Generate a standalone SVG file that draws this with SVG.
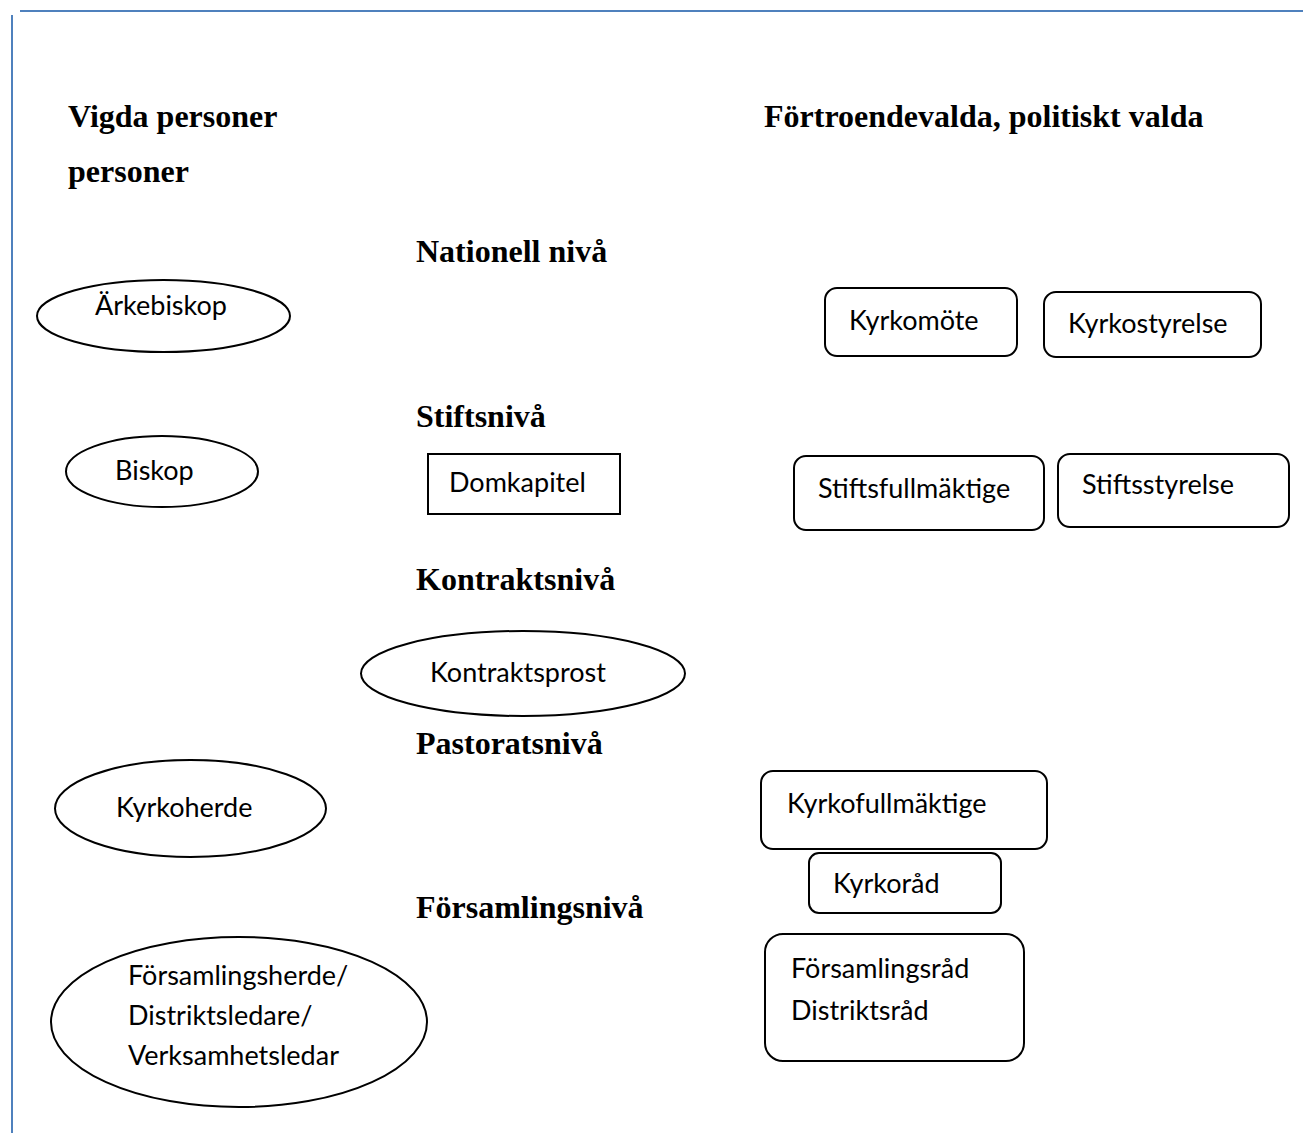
<svg xmlns="http://www.w3.org/2000/svg" width="1303" height="1133" viewBox="0 0 1303 1133">
<style>
.h{font-family:"Liberation Serif","Times New Roman",serif;font-weight:bold;font-size:32px;fill:#000}
.t{font-family:Lato,"Open Sans",sans-serif;font-size:27px;fill:#000}
.s{fill:#fff;stroke:#000;stroke-width:2}
.b{stroke:#4F81BD;stroke-width:2;fill:none}
</style>
<rect width="1303" height="1133" fill="#fff"/>
<g id="border">
<line class="b" x1="20" y1="11" x2="1303" y2="11"/>
<line class="b" x1="12" y1="15" x2="12" y2="1133"/>
</g>
<g id="headers">
<text class="h" x="68" y="127">Vigda personer</text>
<text class="h" x="68" y="182">personer</text>
<text class="h" x="764" y="127">Förtroendevalda, politiskt valda</text>
<text class="h" x="416" y="262">Nationell nivå</text>
<text class="h" x="416" y="427">Stiftsnivå</text>
<text class="h" x="416" y="590">Kontraktsnivå</text>
<text class="h" x="416" y="754">Pastoratsnivå</text>
<text class="h" x="416" y="918">Församlingsnivå</text>
</g>
<g id="arkebiskop"><ellipse class="s" cx="163.5" cy="316" rx="126.5" ry="36"/><text class="t" x="95" y="315">Ärkebiskop</text></g>
<g id="biskop"><ellipse class="s" cx="162" cy="471.5" rx="96" ry="35.5"/><text class="t" x="115" y="480">Biskop</text></g>
<g id="domkapitel"><rect class="s" x="428" y="454" width="192" height="60"/><text class="t" x="449" y="492">Domkapitel</text></g>
<g id="kontraktsprost"><ellipse class="s" cx="523" cy="673.5" rx="162" ry="42.5"/><text class="t" x="430" y="682">Kontraktsprost</text></g>
<g id="kyrkoherde"><ellipse class="s" cx="190.5" cy="808.5" rx="135.5" ry="48.5"/><text class="t" x="116" y="817">Kyrkoherde</text></g>
<g id="forsamlingsherde"><ellipse class="s" cx="239" cy="1022" rx="188" ry="85"/><text class="t" x="128" y="985">Församlingsherde/</text><text class="t" x="128" y="1025">Distriktsledare/</text><text class="t" x="128" y="1065">Verksamhetsledar</text></g>
<g id="kyrkomote"><rect class="s" x="825" y="288" width="192" height="68" rx="12"/><text class="t" x="849" y="330">Kyrkomöte</text></g>
<g id="kyrkostyrelse"><rect class="s" x="1044" y="292" width="217" height="65" rx="12"/><text class="t" x="1068" y="333">Kyrkostyrelse</text></g>
<g id="stiftsfullmaktige"><rect class="s" x="794" y="456" width="250" height="74" rx="12"/><text class="t" x="818" y="498">Stiftsfullmäktige</text></g>
<g id="stiftsstyrelse"><rect class="s" x="1058" y="454" width="231" height="73" rx="12"/><text class="t" x="1082" y="494">Stiftsstyrelse</text></g>
<g id="kyrkofullmaktige"><rect class="s" x="761" y="771" width="286" height="78" rx="12"/><text class="t" x="787" y="813">Kyrkofullmäktige</text></g>
<g id="kyrkorad"><rect class="s" x="809" y="853" width="192" height="60" rx="10"/><text class="t" x="833" y="893">Kyrkoråd</text></g>
<g id="forsamlingsrad"><rect class="s" x="765" y="934" width="259" height="127" rx="18"/><text class="t" x="791" y="978">Församlingsråd</text><text class="t" x="791" y="1020">Distriktsråd</text></g>
<g id="connectors"></g>
</svg>
